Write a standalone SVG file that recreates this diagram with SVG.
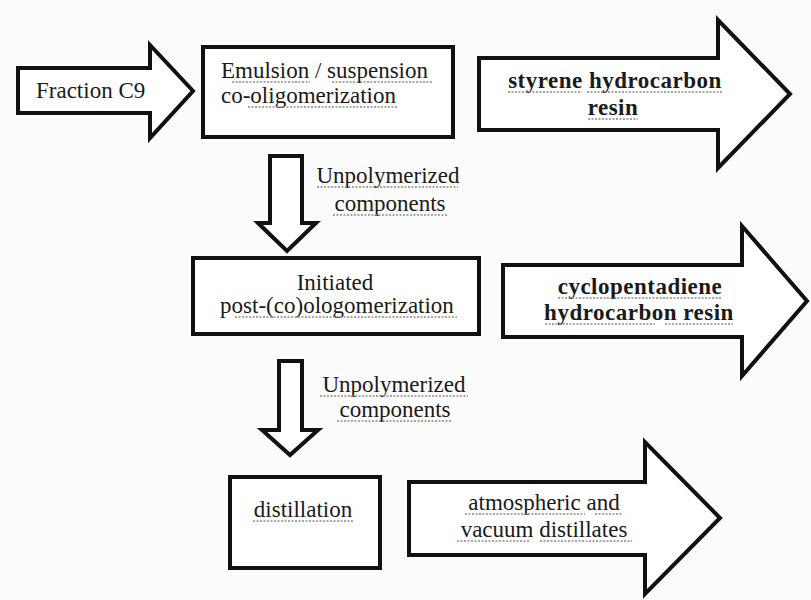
<svg xmlns="http://www.w3.org/2000/svg" width="811" height="600" viewBox="0 0 811 600">
<style>
.bg{fill:#fcfcfc}
.sh{fill:#ffffff;stroke:#111;stroke-width:4;stroke-linejoin:miter}
.t{font-family:'Liberation Serif','Times New Roman',serif;font-size:23px;fill:#1a1a1a}
.c{text-anchor:middle}
.b{font-weight:bold;letter-spacing:0.5px}
.ul{stroke:#8a8a8a;stroke-width:1.6;stroke-dasharray:2 1.5;fill:none}
</style>
<rect class="bg" x="0" y="0" width="811" height="600"/>
<g id="connectors">
<g id="arrow-fraction">
<path class="sh" d="M18,68 H150 V45 L193,91 L150,138 V113 H18 Z"/>
<text class="t" x="36" y="98">Fraction C9</text>
</g>
<g id="arrow-down-1">
<path class="sh" d="M270,156 H302 V223 H316 L287,251 L258,223 H270 Z"/>
<text class="t c" x="388" y="183">Unpolymerized</text>
<text class="t c" x="390" y="211">components</text>
</g>
<g id="arrow-down-2">
<path class="sh" d="M279,361 H302 V430 H318 L290,455 L262,430 H279 Z"/>
<text class="t c" x="394" y="392">Unpolymerized</text>
<text class="t c" x="395" y="417">components</text>
</g>
</g>
<g id="node-emulsion">
<rect class="sh" x="203" y="47" width="250" height="90"/>
<text class="t" x="221" y="78">Emulsion / suspension</text>
<text class="t" x="221" y="103">co-oligomerization</text>
</g>
<g id="node-styrene">
<path class="sh" d="M479,58 H718 V20 L790,94 L718,168 V130 H479 Z"/>
<text class="t c b" x="615" y="88">styrene hydrocarbon</text>
<text class="t c b" x="613" y="115">resin</text>
</g>
<g id="node-initiated">
<rect class="sh" x="193" y="258" width="286" height="76"/>
<text class="t c" x="335" y="290">Initiated</text>
<text class="t c" x="337" y="313">post-(co)ologomerization</text>
</g>
<g id="node-cyclopentadiene">
<path class="sh" d="M503,265 H742 V226 L807,301 L742,376 V337 H503 Z"/>
<text class="t c b" x="640" y="294">cyclopentadiene</text>
<text class="t c b" x="639" y="320">hydrocarbon resin</text>
</g>
<g id="node-distillation">
<rect class="sh" x="230" y="477" width="150" height="91"/>
<text class="t c" x="303" y="517">distillation</text>
</g>
<g id="node-distillates">
<path class="sh" d="M409,482 H645 V442 L720,518 L645,594 V555 H409 Z"/>
<text class="t c" x="544" y="510">atmospheric and</text>
<text class="t c" x="544" y="537">vacuum distillates</text>
</g>
<g id="underlines">
<path class="ul" d="M232,82 H310 M332,82 H433 M248,107 H397 M508,92 H582 M587,92 H723 M588,119 H638 M317,187 H458 M333,215 H447 M235,317 H457 M558,298 H722 M545,324 H655 M665,324 H733 M320,396 H468 M337,421 H452 M253,521 H353 M465,514 H585 M595,514 H623 M457,541 H530 M540,541 H632"/>
</g>
</svg>
